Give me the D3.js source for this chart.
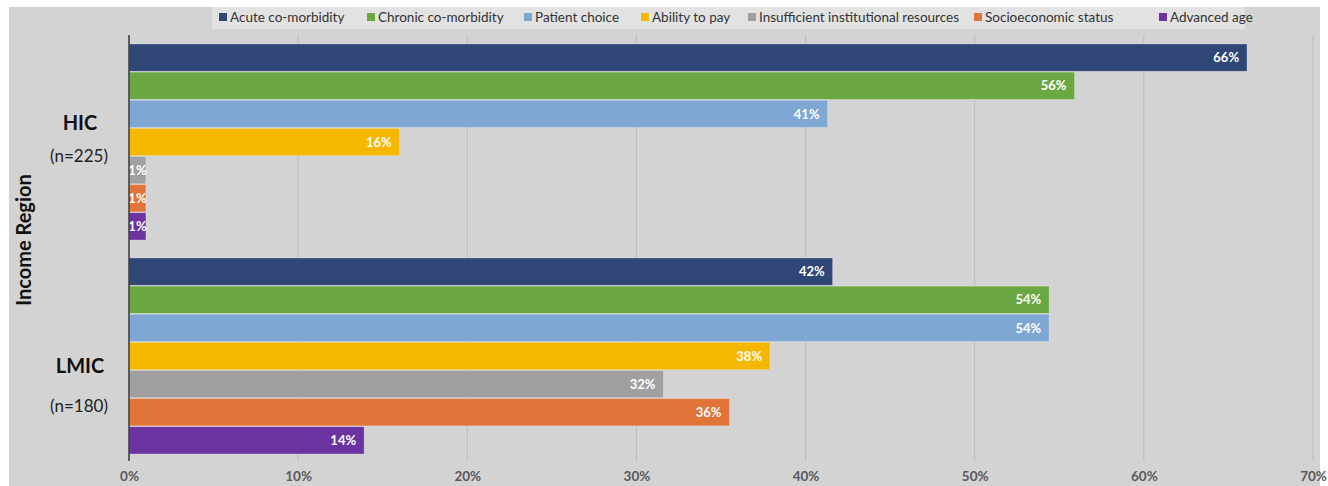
<!DOCTYPE html>
<html><head><meta charset="utf-8">
<script src="https://cdn.jsdelivr.net/npm/d3@7"></script>
<style>body{margin:0;background:#fff}svg{display:block;font-family:Lato,"Open Sans",sans-serif}</style>
</head><body><svg id="c" width="1328" height="486"></svg>
<script>
const regions = ["HIC", "LMIC"];
const regionN = ["(n=225)", "(n=180)"];
const series = ["Acute co-morbidity","Chronic co-morbidity","Patient choice","Ability to pay","Insufficient institutional resources","Socioeconomic status","Advanced age"];
const colors = ["#2f4677","#6ba742","#7fa7d3","#f5b700","#a0a0a0","#e17438","#6b33a0"];
const hicValues = [66.1, 55.9, 41.3, 16.0, 1.0, 1.0, 1.0];
const lmicValues = [41.6, 54.4, 54.4, 37.9, 31.6, 35.5, 13.9];
const xTicks = [0,10,20,30,40,50,60,70];
const legendX = [219, 367, 524, 641, 748, 974, 1159];

const values = [hicValues, lmicValues];
const svg = d3.select("#c");
svg.append("rect").attr("x",9).attr("y",7).attr("width",1311).attr("height",479).attr("fill","#d3d3d3");
svg.append("rect").attr("x",212).attr("y",7).attr("width",1033).attr("height",22).attr("fill","#e2e2e2");

const x = d3.scaleLinear().domain([0,70]).range([129,1313]);
const y0 = d3.scaleBand().domain(regions).range([35,463]).paddingInner(0.084).paddingOuter(0.042);
const y1 = d3.scaleBand().domain(series).range([0,y0.bandwidth()]).paddingInner(0.03);

svg.append("g").selectAll("line").data(xTicks.slice(1)).join("line")
  .attr("x1",d=>x(d)).attr("x2",d=>x(d)).attr("y1",35).attr("y2",461)
  .attr("stroke","#bcbcbc").attr("stroke-width",1);

const xAxis = d3.axisBottom(x).tickValues(xTicks).tickFormat(d=>d+"%").tickSize(0).tickPadding(0);
const gx = svg.append("g").attr("transform","translate(0,471)").call(xAxis);
gx.select(".domain").remove();
gx.selectAll("text").attr("fill","#595959").attr("font-size",13.5).attr("font-weight",700).attr("dy","0.71em").attr("font-family","Lato,sans-serif");

regions.forEach((r,ri)=>{
  const g = svg.append("g").attr("transform",`translate(0,${y0(r)})`);
  const data = series.map((s,i)=>({s, v: values[ri][i], c: colors[i]}));
  g.selectAll("rect").data(data).join("rect")
    .attr("x",x(0)).attr("y",d=>y1(d.s)).attr("width",d=>x(d.v)-x(0)).attr("height",y1.bandwidth())
    .attr("fill",d=>d.c).attr("stroke","rgba(255,255,255,0.35)").attr("stroke-width",0.8);
  g.selectAll("text").data(data).join("text")
    .attr("x",d=>{const w=x(d.v)-x(0); return w<30 ? x(0)+w/2 : x(d.v)-8;})
    .attr("text-anchor",d=>(x(d.v)-x(0))<30?"middle":"end")
    .attr("y",d=>y1(d.s)+y1.bandwidth()/2).attr("dy","0.36em")
    .attr("fill","#fff").attr("font-size",13).attr("font-weight",700)
    .text(d=>Math.round(d.v)+"%");
});

svg.append("line").attr("x1",129).attr("x2",129).attr("y1",35).attr("y2",461).attr("stroke","#3f3f3f").attr("stroke-width",1.6);

const labelOff = [-12, 17];
const nOff = [20, 56];
regions.forEach((r,ri)=>{
  const cy = y0(r)+y0.bandwidth()/2;
  svg.append("text").attr("x",80).attr("y",cy+labelOff[ri]).attr("text-anchor","middle")
    .attr("font-size",20).attr("font-weight",700).attr("fill","#111").text(r);
  svg.append("text").attr("x",79).attr("y",cy+nOff[ri]).attr("text-anchor","middle")
    .attr("font-size",17).attr("fill","#222").text(regionN[ri]);
});
svg.append("text").attr("transform","translate(31,240) rotate(-90)").attr("text-anchor","middle")
  .attr("font-size",20).attr("font-weight",700).attr("fill","#111").text("Income Region");

const lg = svg.append("g");
series.forEach((s,i)=>{
  lg.append("rect").attr("x",legendX[i]).attr("y",13).attr("width",8).attr("height",8).attr("fill",colors[i]);
  lg.append("text").attr("x",legendX[i]+11).attr("y",17).attr("dy","0.35em").attr("font-size",13.5).attr("fill","#333").text(s);
});
</script></body></html>
